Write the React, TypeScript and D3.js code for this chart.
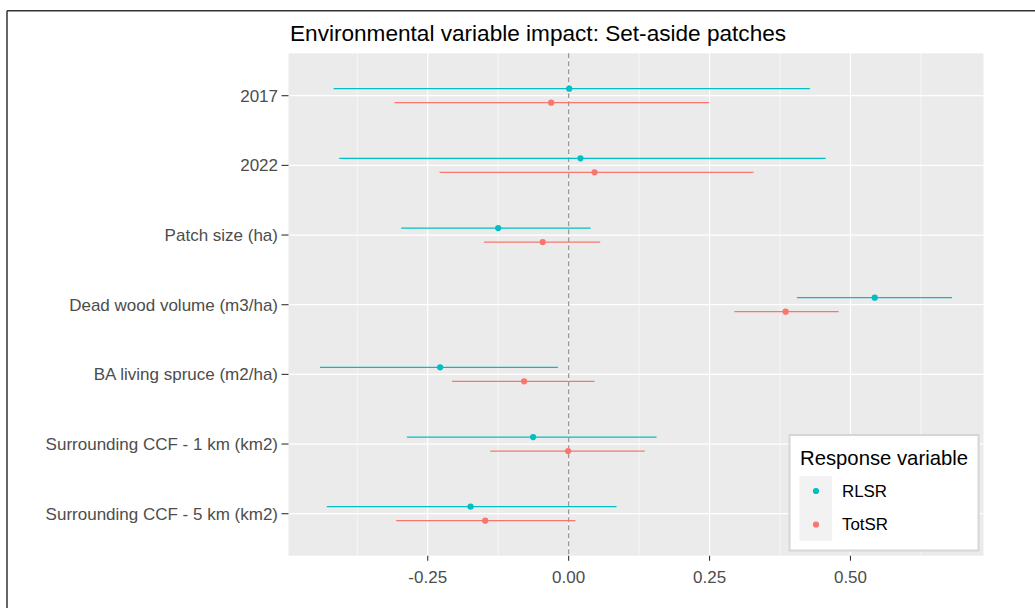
import React from "react";
import * as d3 from "d3";

// Model terms, top to bottom
const categories = [
  "2017",
  "2022",
  "Patch size (ha)",
  "Dead wood volume (m3/ha)",
  "BA living spruce (m2/ha)",
  "Surrounding CCF - 1 km (km2)",
  "Surrounding CCF - 5 km (km2)",
];

// RLSR estimates and intervals
const rlsrEst = [0.001, 0.021, -0.125, 0.543, -0.228, -0.063, -0.174];
const rlsrLow = [-0.417, -0.407, -0.297, 0.405, -0.441, -0.287, -0.429];
const rlsrHigh = [0.428, 0.456, 0.039, 0.68, -0.019, 0.156, 0.085];

// TotSR estimates and intervals
const totEst = [-0.031, 0.046, -0.046, 0.385, -0.079, -0.001, -0.148];
const totLow = [-0.309, -0.229, -0.15, 0.294, -0.207, -0.139, -0.306];
const totHigh = [0.249, 0.328, 0.056, 0.479, 0.046, 0.135, 0.012];

const xTicks = [-0.25, 0, 0.25, 0.5];
const xMinor = [-0.375, -0.125, 0.125, 0.375, 0.625];

const seriesNames = ["RLSR", "TotSR"];
const colors = ["#00BFC4", "#F8766D"];

const W = 1035;
const H = 608;
const panel = { left: 288.5, right: 983.5, top: 53.3, bottom: 555.7 };
const font = "'Liberation Sans', Arial, sans-serif";

// ggplot style labels use a plain hyphen for negatives
const fmt = (v: number) => d3.format(".2f")(v).replace("\u2212", "-");

const App = () => {
  const x = d3.scaleLinear().domain([-0.497, 0.736]).range([panel.left, panel.right]);
  const y = d3.scalePoint<string>().domain(categories).range([95.7, 513.7]);

  const series = [
    { est: rlsrEst, low: rlsrLow, high: rlsrHigh, dy: -7 },
    { est: totEst, low: totLow, high: totHigh, dy: 7 },
  ];

  return (
    <div style={{ position: "fixed", left: 0, top: 0 }}>
      <svg width={W} height={H} style={{ display: "block", background: "#fff" }}>
        {/* outer frame (cropped) */}
        <line x1={7} x2={W} y1={10.7} y2={10.7} stroke="#333" strokeWidth={1.5} />
        <line x1={7} x2={7} y1={10.7} y2={H} stroke="#333" strokeWidth={1.5} />

        <text x={290} y={40.5} fontFamily={font} fontSize={22.6} fill="#000">
          Environmental variable impact: Set-aside patches
        </text>

        <rect
          x={panel.left}
          y={panel.top}
          width={panel.right - panel.left}
          height={panel.bottom - panel.top}
          fill="#EBEBEB"
        />
        {xMinor.map((t) => (
          <line key={"mn" + t} x1={x(t)} x2={x(t)} y1={panel.top} y2={panel.bottom} stroke="#fff" strokeWidth={0.6} />
        ))}
        {xTicks.map((t) => (
          <line key={"mj" + t} x1={x(t)} x2={x(t)} y1={panel.top} y2={panel.bottom} stroke="#fff" strokeWidth={1.2} />
        ))}
        {categories.map((c) => (
          <line key={"gy" + c} x1={panel.left} x2={panel.right} y1={y(c)} y2={y(c)} stroke="#fff" strokeWidth={1.2} />
        ))}

        {/* zero reference */}
        <line
          x1={x(0)}
          x2={x(0)}
          y1={panel.top}
          y2={panel.bottom}
          stroke="#9a9a9a"
          strokeWidth={1.3}
          strokeDasharray="5,3"
        />

        {series.map((s, si) =>
          categories.map((c, i) => {
            const cy = (y(c) as number) + s.dy;
            return (
              <g key={si + "-" + c}>
                <line x1={x(s.low[i])} x2={x(s.high[i])} y1={cy} y2={cy} stroke={colors[si]} strokeWidth={1.3} />
                <circle cx={x(s.est[i])} cy={cy} r={3.1} fill={colors[si]} />
              </g>
            );
          })
        )}

        {/* y axis */}
        {categories.map((c) => (
          <g key={"ya" + c}>
            <line x1={281.5} x2={panel.left} y1={y(c)} y2={y(c)} stroke="#333" strokeWidth={1.1} />
            <text
              x={278}
              y={y(c)}
              dy="0.35em"
              textAnchor="end"
              fontFamily={font}
              fontSize={17}
              fill="#4D4D4D"
            >
              {c}
            </text>
          </g>
        ))}

        {/* x axis */}
        {xTicks.map((t) => (
          <g key={"xa" + t}>
            <line x1={x(t)} x2={x(t)} y1={panel.bottom} y2={panel.bottom + 5} stroke="#333" strokeWidth={1.1} />
            <text
              x={x(t)}
              y={583}
              textAnchor="middle"
              fontFamily={font}
              fontSize={17}
              fill="#4D4D4D"
            >
              {fmt(t)}
            </text>
          </g>
        ))}

        {/* legend */}
        <rect x={789.5} y={435} width={189} height={115.5} fill="#fff" stroke="#d6d6d6" strokeWidth={2} />
        <text x={800} y={465} fontFamily={font} fontSize={20.3} fill="#000">
          Response variable
        </text>
        <rect x={799.5} y={476} width={32.5} height={65} fill="#F2F2F2" />
        {seriesNames.map((n, i) => (
          <g key={n}>
            <circle cx={816} cy={491 + i * 33.5} r={3.1} fill={colors[i]} />
            <text x={842} y={491 + i * 33.5} dy="0.35em" fontFamily={font} fontSize={16.9} fill="#000">
              {n}
            </text>
          </g>
        ))}
      </svg>
    </div>
  );
};

export default App;
